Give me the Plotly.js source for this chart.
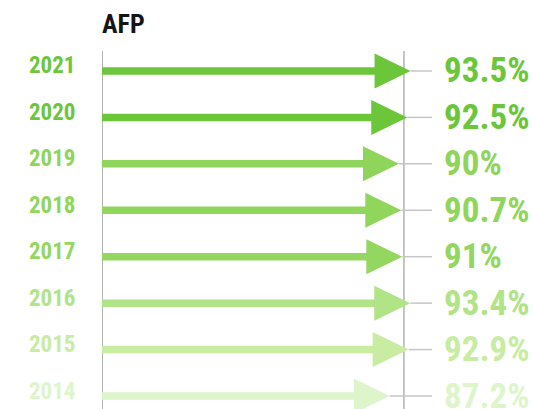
<!DOCTYPE html>
<html>
<head>
<meta charset="utf-8">
<script src="https://cdn.plot.ly/plotly-3.0.1.min.js"></script>
<style>
html,body{margin:0;padding:0;background:#fff;}
#chart{width:533px;height:409px;}
</style>
</head>
<body>
<div id="chart"></div>
<script>
// ---- data ----
var years  = ['2021','2020','2019','2018','2017','2016','2015','2014'];
var values = [93.5, 92.5, 90, 90.7, 91, 93.4, 92.9, 87.2];
var colors = ['#6cc63a','#6cc63a','#8fd55b','#90d55c','#93d760','#b1e387','#c8eca2','#def5cc'];
var refLine = 91.5;

var FONT = '"Liberation Sans Narrow", "Roboto Condensed", "Arial Narrow", sans-serif';
var headLen = 10.9;   // x units
var headHalf = 0.377; // y units
var n = years.length;

var traces = [];
var annotations = [];

for (var i = 0; i < n; i++) {
  var y = n - 1 - i;
  var v = values[i];
  traces.push({
    type: 'scatter', mode: 'lines', x: [v, 100], y: [y, y],
    line: {color: '#c6c6c6', width: 1.5}, hoverinfo: 'skip', showlegend: false
  });
}
for (var i = 0; i < n; i++) {
  var y = n - 1 - i;
  var v = values[i];
  traces.push({
    type: 'scatter', mode: 'lines', x: [0, v - headLen + 0.5], y: [y, y],
    line: {color: colors[i], width: 7.5}, hoverinfo: 'skip', showlegend: false
  });
  traces.push({
    type: 'scatter', mode: 'lines', fill: 'toself', fillcolor: colors[i],
    x: [v - headLen, v, v - headLen, v - headLen],
    y: [y + headHalf, y, y - headHalf, y + headHalf],
    line: {color: colors[i], width: 0}, hoverinfo: 'skip', showlegend: false
  });
  annotations.push({
    x: 0, y: y, xref: 'x', yref: 'y', xanchor: 'right', yanchor: 'middle',
    xshift: -24, yshift: 5, showarrow: false, text: years[i],
    font: {family: FONT, size: 23, color: colors[i], weight: 'bold'}
  });
  annotations.push({
    x: 100, y: y, xref: 'x', yref: 'y', xanchor: 'left', yanchor: 'middle',
    xshift: 10, yshift: 0, showarrow: false, text: v + '%',
    font: {family: FONT, size: 35, color: colors[i], weight: 'bold'}
  });
}

var layout = {
  width: 533, height: 409,
  margin: {l: 102, r: 101, t: 51, b: 0},
  paper_bgcolor: '#ffffff', plot_bgcolor: '#ffffff',
  title: {
    text: 'AFP', x: 102/533, xanchor: 'left', xref: 'container',
    y: 1 - 24/409, yanchor: 'middle', yref: 'container',
    font: {family: FONT, size: 26, color: '#151515', weight: 'bold'}
  },
  xaxis: {range: [0, 100], visible: false, fixedrange: true},
  yaxis: {range: [-0.28, 7.43], visible: false, fixedrange: true},
  shapes: [
    {type: 'line', layer: 'below', xref: 'x', yref: 'paper', x0: 0, x1: 0, y0: 0, y1: 1,
     line: {color: '#b2b2b2', width: 2}},
    {type: 'line', layer: 'below', xref: 'x', yref: 'paper', x0: refLine, x1: refLine, y0: 0, y1: 1,
     line: {color: '#b2b2b2', width: 1.5}}
  ],
  annotations: annotations,
  showlegend: false
};

Plotly.newPlot('chart', traces, layout, {displayModeBar: false, staticPlot: true});
</script>
</body>
</html>
